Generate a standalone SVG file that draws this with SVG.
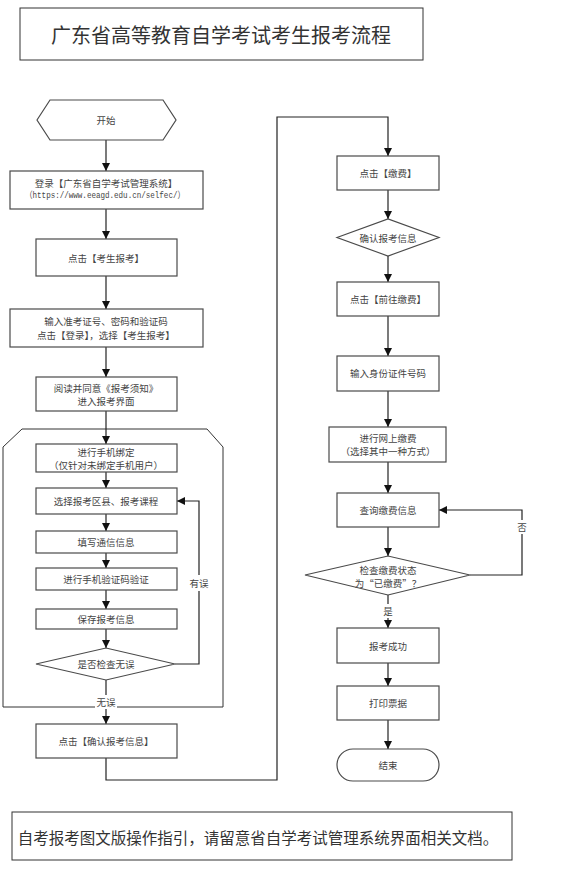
<svg xmlns="http://www.w3.org/2000/svg" width="571" height="875" viewBox="0 0 571 875">
<style>
.box{fill:#fff;stroke:#4a4a4a;stroke-width:1.2}
.frame{fill:none;stroke:#333;stroke-width:1}
.t{font-family:"Noto Sans CJK SC","Liberation Sans",sans-serif;font-size:9.5px;fill:#444;text-anchor:middle;dominant-baseline:central}
.mono{font-family:"Liberation Mono","Noto Sans CJK SC",monospace;font-size:9px;fill:#444;text-anchor:middle;dominant-baseline:central}
.big{font-family:"Noto Sans CJK SC","Liberation Sans",sans-serif;font-size:20px;fill:#333;text-anchor:middle;dominant-baseline:central}
.foot{font-family:"Noto Sans CJK SC","Liberation Sans",sans-serif;font-size:15.5px;fill:#333;text-anchor:middle;dominant-baseline:central}
.c{fill:none;stroke:#222;stroke-width:1.2}
.lbl{fill:#fff;stroke:none}
</style>
<defs>
<marker id="arr" markerWidth="9" markerHeight="9" refX="8" refY="4" orient="auto" markerUnits="userSpaceOnUse">
<path d="M0,0 L8,4 L0,8 z" fill="#111"/>
</marker>
</defs>
<rect width="571" height="875" fill="#fff"/>

<g id="title">
<rect x="20" y="8" width="403" height="52" class="frame" stroke="#555"/>
<text x="221" y="34" class="big">广东省高等教育自学考试考生报考流程</text>
</g>

<g id="container">
<path d="M22,429 L207,429 L223,447 L223,707 L3,707 L3,447 Z" class="frame"/>
</g>

<g id="connectors">
<line x1="106" y1="140" x2="106" y2="171" class="c" marker-end="url(#arr)"/>
<line x1="106" y1="209" x2="106" y2="239" class="c" marker-end="url(#arr)"/>
<line x1="106" y1="276" x2="106" y2="309" class="c" marker-end="url(#arr)"/>
<line x1="106" y1="347" x2="106" y2="377" class="c" marker-end="url(#arr)"/>
<line x1="106" y1="411" x2="106" y2="444" class="c" marker-end="url(#arr)"/>
<line x1="106" y1="472" x2="106" y2="488" class="c" marker-end="url(#arr)"/>
<line x1="106" y1="514" x2="106" y2="531" class="c" marker-end="url(#arr)"/>
<line x1="106" y1="553" x2="106" y2="568" class="c" marker-end="url(#arr)"/>
<line x1="106" y1="590" x2="106" y2="609" class="c" marker-end="url(#arr)"/>
<line x1="106" y1="629" x2="106" y2="648" class="c" marker-end="url(#arr)"/>
<polyline points="175,664 199,664 199,501 177,501" class="c" marker-end="url(#arr)"/>
<line x1="106" y1="680" x2="106" y2="724" class="c" marker-end="url(#arr)"/>
<polyline points="106,758 106,780 277,780 277,117 388,117 388,156" class="c" marker-end="url(#arr)"/>
<line x1="388" y1="190" x2="388" y2="219" class="c" marker-end="url(#arr)"/>
<line x1="388" y1="256" x2="388" y2="282" class="c" marker-end="url(#arr)"/>
<line x1="388" y1="316" x2="388" y2="356" class="c" marker-end="url(#arr)"/>
<line x1="388" y1="391" x2="388" y2="427" class="c" marker-end="url(#arr)"/>
<line x1="388" y1="462" x2="388" y2="493" class="c" marker-end="url(#arr)"/>
<line x1="388" y1="527" x2="388" y2="556" class="c" marker-end="url(#arr)"/>
<polyline points="470,575 522,575 522,510 439,510" class="c" marker-end="url(#arr)"/>
<line x1="388" y1="595" x2="388" y2="628" class="c" marker-end="url(#arr)"/>
<line x1="388" y1="663" x2="388" y2="686" class="c" marker-end="url(#arr)"/>
<line x1="388" y1="720" x2="388" y2="749" class="c" marker-end="url(#arr)"/>
<rect x="188" y="575" width="22" height="16" class="lbl"/>
<text x="199" y="583" class="t">有误</text>
<rect x="95" y="695" width="22" height="14" class="lbl"/>
<text x="106" y="702" class="t">无误</text>
<rect x="515" y="520" width="14" height="14" class="lbl"/>
<text x="522" y="527" class="t">否</text>
<rect x="382" y="604" width="12" height="14" class="lbl"/>
<text x="388" y="611" class="t">是</text>
</g>

<g id="start">
<polygon points="37,120 50,100 163,100 176,120 163,140 50,140" class="box"/>
<text x="106" y="120" class="t">开始</text>
</g>
<g id="login">
<rect x="10" y="171" width="193" height="38" class="box"/>
<text x="106" y="183" class="t">登录【广东省自学考试管理系统】</text>
<text x="105" y="196" class="mono" textLength="160" lengthAdjust="spacingAndGlyphs">（https://www.eeagd.edu.cn/selfec/）</text>
</g>
<g id="click-apply">
<rect x="36" y="239" width="141" height="37" class="box"/>
<text x="106" y="258" class="t">点击【考生报考】</text>
</g>
<g id="input-login">
<rect x="10" y="309" width="193" height="38" class="box"/>
<text x="106" y="321" class="t">输入准考证号、密码和验证码</text>
<text x="106" y="335" class="t">点击【登录】，选择【考生报考】</text>
</g>
<g id="read-notice">
<rect x="36" y="377" width="141" height="34" class="box"/>
<text x="106" y="387.5" class="t">阅读并同意《报考须知》</text>
<text x="106" y="401" class="t">进入报考界面</text>
</g>
<g id="bind-phone">
<rect x="36" y="444" width="141" height="28" class="box"/>
<text x="106" y="451.5" class="t">进行手机绑定</text>
<text x="106" y="465" class="t">（仅针对未绑定手机用户）</text>
</g>
<g id="select-course">
<rect x="36" y="488" width="141" height="26" class="box"/>
<text x="106" y="501" class="t">选择报考区县、报考课程</text>
</g>
<g id="fill-contact">
<rect x="36" y="531" width="141" height="22" class="box"/>
<text x="106" y="542" class="t">填写通信信息</text>
</g>
<g id="verify-phone">
<rect x="36" y="568" width="141" height="22" class="box"/>
<text x="106" y="579" class="t">进行手机验证码验证</text>
</g>
<g id="save-info">
<rect x="36" y="609" width="141" height="20" class="box"/>
<text x="106" y="619" class="t">保存报考信息</text>
</g>
<g id="check-ok">
<polygon points="36,664 106,648 175,664 106,680" class="box"/>
<text x="106" y="664" class="t">是否检查无误</text>
</g>
<g id="confirm-info">
<rect x="36" y="724" width="141" height="34" class="box"/>
<text x="106" y="741" class="t">点击【确认报考信息】</text>
</g>

<g id="click-pay">
<rect x="337" y="156" width="102" height="34" class="box"/>
<text x="388" y="173" class="t">点击【缴费】</text>
</g>
<g id="confirm-diamond">
<polygon points="337,237.5 388,219 439,237.5 388,256" class="box"/>
<text x="388" y="238" class="t">确认报考信息</text>
</g>
<g id="goto-pay">
<rect x="337" y="282" width="102" height="34" class="box"/>
<text x="388" y="299" class="t">点击【前往缴费】</text>
</g>
<g id="input-id">
<rect x="337" y="356" width="102" height="35" class="box"/>
<text x="388" y="373" class="t">输入身份证件号码</text>
</g>
<g id="online-pay">
<rect x="329" y="427" width="117" height="35" class="box"/>
<text x="388" y="438" class="t">进行网上缴费</text>
<text x="388" y="451" class="t">（选择其中一种方式）</text>
</g>
<g id="query-pay">
<rect x="337" y="493" width="102" height="34" class="box"/>
<text x="388" y="510" class="t">查询缴费信息</text>
</g>
<g id="check-paid">
<polygon points="305,575 388,556 470,575 388,595" class="box"/>
<text x="388" y="570" class="t">检查缴费状态</text>
<text x="388" y="583" class="t">为“已缴费”？</text>
</g>
<g id="success">
<rect x="337" y="628" width="102" height="35" class="box"/>
<text x="388" y="646" class="t">报考成功</text>
</g>
<g id="print">
<rect x="337" y="686" width="102" height="34" class="box"/>
<text x="388" y="703" class="t">打印票据</text>
</g>
<g id="end">
<rect x="337" y="749" width="102" height="32" rx="16" ry="16" class="box"/>
<text x="388" y="765" class="t">结束</text>
</g>

<g id="footer">
<rect x="12" y="812" width="500" height="48" class="frame" stroke="#555"/>
<text x="258" y="837" class="foot">自考报考图文版操作指引，请留意省自学考试管理系统界面相关文档。</text>
</g>
</svg>
